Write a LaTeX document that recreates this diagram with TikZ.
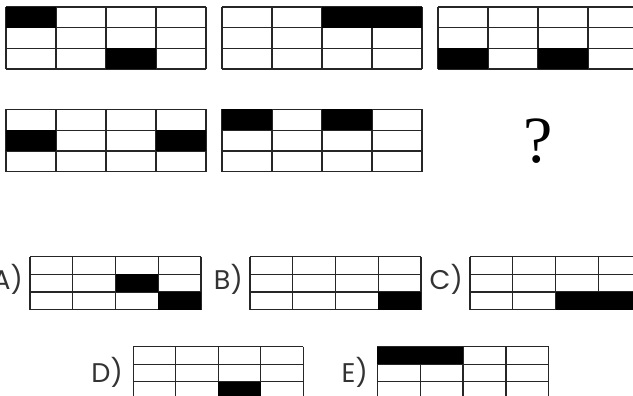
\documentclass[tikz,border=0pt]{standalone}
\usepackage{fontspec}
\setmainfont{Poppins}
\newfontfamily\qfont{Liberation Serif}
\tikzset{
  gl/.style={draw=black!85, line width=1.3pt},
  lbl/.style={anchor=base east, inner sep=0pt, text=black!80, font=\fontsize{27}{27}\selectfont},
  qmark/.style={inner sep=0pt, font=\qfont\fontsize{66}{66}\selectfont}
}
\newcommand\cellgrid[5]{%
  \begin{scope}[shift={(#1,#2)}]
    \foreach \ii in {0,...,4} \draw[gl] (\ii*#3,0) -- (\ii*#3,3*#4);
    \foreach \jj in {0,...,3} \draw[gl] (0,\jj*#4) -- (4*#3,\jj*#4);
    \foreach \ci/\ri/\ni in {#5} \fill[black] (\ci*#3-#3,\ri*#4-#4) rectangle ++(\ni*#3,#4);
  \end{scope}}
\begin{document}
\begin{tikzpicture}[x=1pt,y=-1pt]
\useasboundingbox (0,0) rectangle (633,396);
\clip (0,0) rectangle (633,396);
% question row
\cellgrid{6}{7}{50}{20.7}{1/1/1,3/3/1}
\cellgrid{222}{7}{50}{20.7}{3/1/2}
\cellgrid{438}{7}{50}{20.7}{1/3/1,3/3/1}
\cellgrid{6}{109.5}{50}{20.7}{1/2/1,4/2/1}
\cellgrid{222}{109.5}{50}{20.7}{1/1/1,3/1/1}
\node[qmark] (q) at (538,141) {?};
% answers
\cellgrid{30}{256.7}{42.75}{17.7}{3/2/1,4/3/1}
\cellgrid{250}{256.7}{42.75}{17.7}{4/3/1}
\cellgrid{470}{256.7}{42.75}{17.7}{3/3/2}
\cellgrid{133.3}{346.7}{42.5}{17.5}{3/3/1}
\cellgrid{377.3}{346.7}{42.85}{17.5}{1/1/2}
\node[lbl] (la) at (23,289.5) {A)};
\node[lbl] (lb) at (243,289) {B)};
\node[lbl] (lc) at (463,289.5) {C)};
\node[lbl] (ld) at (123,382) {D)};
\node[lbl] (le) at (368,382) {E)};
\end{tikzpicture}
\end{document}
